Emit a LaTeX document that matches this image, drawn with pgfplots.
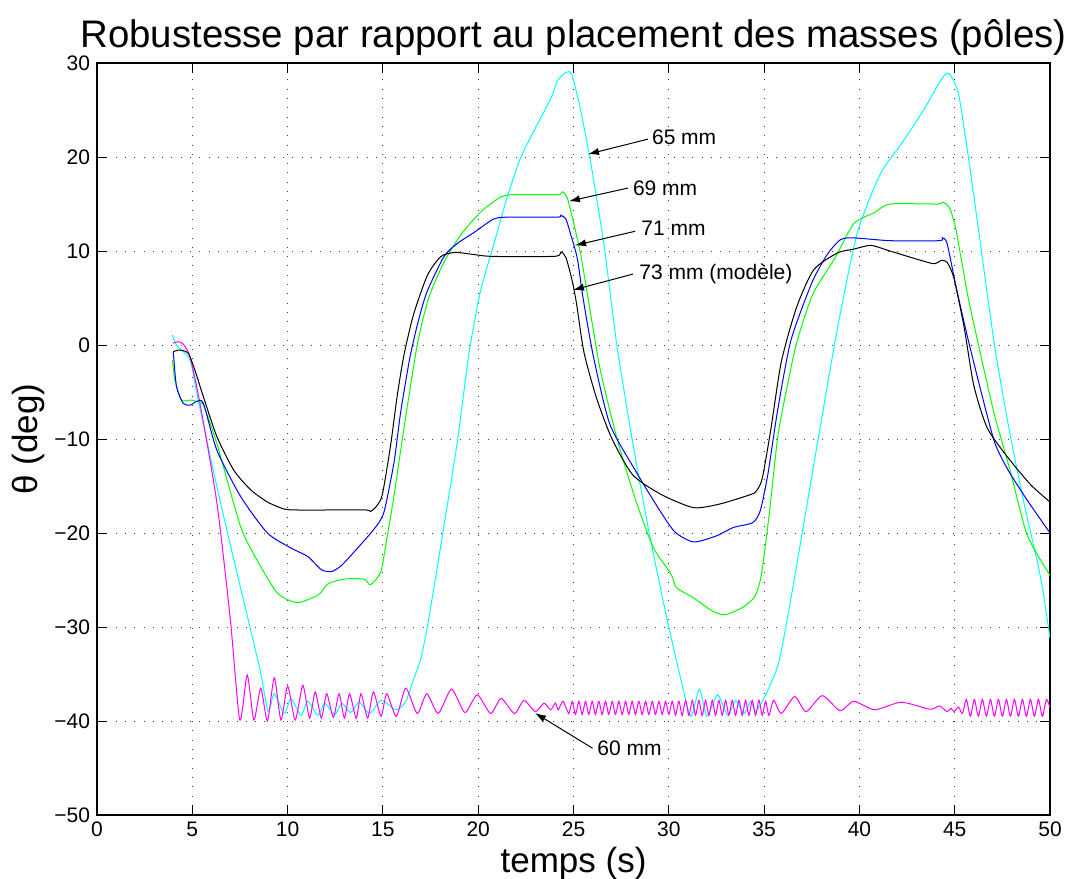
\documentclass[border=0pt]{standalone}
\usepackage{pgfplots}
\pgfplotsset{compat=1.18}
\usepackage{fontspec}
\setmainfont{Liberation Sans}
\usetikzlibrary{arrows.meta}
\definecolor{mcyan}{rgb}{0,1,1}
\definecolor{mmagenta}{rgb}{1,0,1}
\definecolor{mgreen}{rgb}{0,1,0}
\definecolor{mblue}{rgb}{0,0,1}

\begin{document}
\begin{tikzpicture}
\begin{axis}[
    scale only axis,
    width=476.5pt,
    height=376pt,
    xmin=0, xmax=50,
    ymin=-50, ymax=30,
    xtick={0,5,...,50},
    ytick={-50,-40,...,30},
    yticklabels={−50,−40,−30,−20,−10,0,10,20,30},
    tick align=inside,
    major tick length=5pt,
    grid=major,
    grid style={black!75, line width=0.45pt, dash pattern=on 0.45pt off 4.2pt},
    axis line style={line width=0.6pt},
    tick style={line width=0.5pt, black},
    ticklabel style={font=\fontsize{10.5}{12}\selectfont},
    /pgf/number format/assume math mode=true,
    title={Robustesse par rapport au placement des masses (pôles)},
    title style={font=\fontsize{19.2}{22}\selectfont, yshift=-6pt},
    xlabel={temps (s)},
    ylabel={θ (deg)},
    label style={font=\fontsize{17.5}{20}\selectfont},
    xlabel style={yshift=2pt},
    ylabel style={yshift=-2pt},
    every axis plot/.append style={line width=0.5pt, no marks, smooth, tension=0.4},
]
% 65 mm
\addplot[mcyan] coordinates {
(3.96,1.05) (4.17,0) (4.88,-1.6) (5.23,-5.1) (6.29,-15.1) (7.35,-24.3) (8.06,-30.3) (8.59,-34.9)
(8.98,-39.0) (9.3,-37.1) (9.82,-39.2) (10.18,-37.6) (10.7,-39.4) (11.06,-37.9) (11.6,-39.4)
(11.94,-38.1) (12.47,-39.3) (12.85,-38.1) (13.3,-39.1) (13.75,-38.0) (14.3,-39.2) (14.9,-37.8)
(15.7,-38.8) (16.2,-37.9) (16.6,-35.6) (16.97,-33.5) (17.33,-30.0) (18.03,-21.4) (18.9,-10.35)
(19.5,-1.1) (20.1,5.6) (20.8,10.6) (21.5,15.6) (22.2,19.8) (22.9,22.7) (23.8,26.2) (24.16,28.1)
(24.6,29.0) (24.9,28.8) (25.35,25.2) (25.9,19.4) (26.6,10.6) (27.3,-0.4) (28.2,-11.5) (29.0,-20.3)
(29.9,-29.1) (30.6,-35.3) (31.15,-39.5) (31.6,-36.6) (32.0,-39.5) (32.55,-37.2) (33.1,-39.4)
(33.5,-37.8) (33.95,-39.2) (34.3,-37.9) (34.56,-39.0) (35.2,-36.7) (35.8,-33.5) (36.6,-24.7)
(37.8,-10.4) (38.85,1.8) (39.9,12.0) (41.1,18.2) (42.2,21.4) (43.4,25.1) (44.1,27.6) (44.5,28.8)
(44.75,28.8) (45.2,26.7) (45.7,20.2) (46.4,10.0) (47.1,-0.2) (47.8,-8.4) (48.6,-16.5) (49.5,-24.7)
(50.0,-31.2)
};
% 60 mm
\addplot[mmagenta] coordinates {
(3.99,0.2) (4.26,0.35) (4.52,0.1) (4.88,-1.25) (5.4,-6.2) (6.29,-16.8) (7.0,-29.3) (7.49,-39.9)
(7.88,-35.1) (8.23,-39.9) (8.59,-36.5) (8.94,-40.0) (9.3,-35.4) (9.65,-39.9) (10.0,-36.3)
(10.4,-39.9) (10.8,-36.2) (11.15,-39.7) (11.45,-36.9) (11.77,-39.7) (12.05,-37.1) (12.4,-39.6)
(12.7,-37.1) (12.98,-39.7) (13.25,-37.1) (13.6,-39.7) (13.85,-37.1) (14.2,-39.7) (14.5,-36.9)
(14.9,-39.5) (15.2,-37.1) (15.7,-39.5) (16.2,-36.5) (16.8,-39.2) (17.3,-37.1) (17.9,-39.2)
(18.6,-36.6) (19.3,-39.1) (19.95,-37.2) (20.65,-39.2) (21.2,-37.6) (21.9,-39.2) (22.4,-37.8)
(23.0,-39.0) (23.45,-38.1) (23.8,-38.8) (24.05,-38.1) (24.2,-38.8) (24.45,-37.9) (24.75,-39.2)
(24.93,-37.9) (25.10,-39.3) (25.28,-37.9) (25.45,-39.3) (25.63,-37.9) (25.80,-39.3) (25.98,-37.9)
(26.15,-39.3) (26.33,-37.9) (26.50,-39.3) (26.68,-37.9) (26.85,-39.3) (27.03,-37.9) (27.20,-39.3)
(27.38,-37.9) (27.55,-39.3) (27.73,-37.9) (27.90,-39.3) (28.08,-37.9) (28.25,-39.3) (28.43,-37.9)
(28.60,-39.3) (28.78,-37.9) (28.95,-39.3) (29.13,-37.9) (29.30,-39.3) (29.48,-37.9) (29.65,-39.3)
(29.83,-37.9) (30.00,-39.3) (30.18,-37.9) (30.35,-39.4) (30.53,-37.9) (30.70,-39.4) (30.88,-37.8)
(31.05,-39.4) (31.23,-37.8) (31.40,-39.4) (31.58,-37.8) (31.75,-39.4) (31.93,-37.8) (32.10,-39.4)
(32.28,-37.8) (32.45,-39.4) (32.63,-37.8) (32.80,-39.4) (32.98,-37.8) (33.15,-39.4) (33.33,-37.8)
(33.50,-39.4) (33.68,-37.8) (33.85,-39.4) (34.03,-37.8) (34.20,-39.4) (34.38,-37.8) (34.55,-39.4)
(34.73,-37.8) (34.90,-39.4) (35.08,-37.9) (35.25,-39.4) (35.5,-37.8) (35.9,-39.2) (36.6,-37.4)
(37.2,-39.0) (38.05,-37.3) (38.98,-38.9) (39.7,-37.9) (40.8,-38.8) (42.2,-38.0) (43.7,-38.75)
(44.2,-38.4) (44.6,-39.0) (44.8,-38.65) (44.97,-39.0) (45.2,-38.5) (45.4,-39.2)
(45.61,-37.7) (45.82,-39.5) (46.03,-37.7) (46.24,-39.5) (46.45,-37.7) (46.66,-39.5) (46.87,-37.7)
(47.08,-39.5) (47.29,-37.7) (47.50,-39.5) (47.71,-37.7) (47.92,-39.5) (48.13,-37.7) (48.34,-39.5)
(48.55,-37.7) (48.76,-39.5) (48.97,-37.7) (49.18,-39.5) (49.39,-37.7) (49.60,-39.5) (49.81,-37.7)
(50.0,-38.6)
};
% 69 mm
\addplot[mgreen] coordinates {
(3.96,-1.6) (4.08,-3.7) (4.43,-5.85) (4.88,-5.85) (5.23,-6.0) (5.58,-6.4) (6.29,-10.5) (7.53,-19.3)
(8.4,-22.9) (9.47,-26.4) (10.5,-27.4) (11.6,-26.6) (12.12,-25.4) (13.0,-24.9) (14.0,-24.9)
(14.35,-25.5) (14.88,-24.2) (15.14,-21.4) (15.58,-16.05) (16.1,-8.9) (16.8,0.0) (17.4,5.0)
(18.2,8.8) (19.08,11.7) (20.13,14.15) (21.18,15.75) (21.88,16.0) (24.16,16.0) (24.42,16.3)
(24.68,15.6) (25.04,12.7) (25.38,9.6) (25.7,5.75) (26.4,-2.6) (27.3,-10.1) (28.3,-16.75)
(29.2,-21.6) (30.1,-24.3) (30.4,-25.8) (31.3,-26.9) (32.2,-28.2) (32.9,-28.7) (33.8,-28.0)
(34.5,-26.8) (34.85,-24.5) (35.25,-18.3) (35.7,-10.0) (36.1,-5.5) (36.7,0.2) (37.55,5.4)
(38.7,9.2) (39.7,12.9) (40.8,14.1) (41.6,15.0) (44.1,15.0) (44.35,15.2) (44.7,14.7) (45.05,12.4)
(45.7,5.1) (46.4,-1.4) (47.1,-7.55) (47.9,-13.3) (48.8,-20.2) (50.0,-24.5)
};
% 71 mm
\addplot[mblue] coordinates {
(4.0,-0.7) (4.17,-4.4) (4.52,-6.2) (4.88,-6.4) (5.23,-6.0) (5.58,-6.2) (6.29,-11.2) (7.53,-16.1)
(8.94,-20.0) (10.18,-21.6) (11.06,-22.5) (11.77,-23.9) (12.3,-24.1) (12.8,-23.5) (13.36,-22.3)
(14.53,-19.6) (15.05,-17.8) (15.58,-12.5) (15.93,-7.15) (16.4,-1.5) (16.8,2.1) (17.3,5.6)
(18.2,9.4) (18.9,10.8) (19.8,12.0) (20.8,13.4) (21.5,13.6) (24.16,13.6) (24.33,13.8) (24.6,13.4)
(24.86,11.7) (25.2,9.2) (25.5,5.0) (26.05,-1.3) (26.9,-8.4) (28.2,-13.2) (29.4,-17.2) (30.3,-19.85)
(31.3,-20.95) (32.5,-20.3) (33.4,-19.4) (34.4,-18.9) (34.8,-17.6) (35.2,-13.7) (35.7,-7.05)
(36.4,0.45) (37.5,6.6) (38.3,9.6) (39.0,11.2) (39.7,11.4) (41.6,11.1) (44.2,11.1) (44.35,11.4)
(44.6,10.8) (45.1,5.9) (45.7,0.6) (46.4,-5.1) (47.1,-10.4) (47.8,-13.3) (48.8,-16.5) (50.0,-20.0)
};
% 73 mm (modele)
\addplot[black] coordinates {
(4.0,-0.7) (4.25,-0.55) (4.52,-0.6) (4.8,-0.9) (5.14,-2.7) (5.58,-5.5) (6.29,-9.75) (7.17,-13.3)
(8.06,-15.4) (8.94,-16.7) (9.82,-17.45) (10.5,-17.55) (12.25,-17.55) (14.1,-17.55) (14.35,-17.7)
(14.6,-17.3) (14.96,-16.0) (15.4,-10.7) (15.75,-5.4) (16.1,-1.1) (16.6,3.2) (17.33,7.4)
(18.03,9.4) (18.74,9.85) (19.5,9.7) (20.5,9.45) (22.0,9.4) (24.1,9.45) (24.35,9.9) (24.6,9.3)
(24.9,7.1) (25.15,4.5) (25.55,-0.8) (26.2,-5.6) (27.0,-9.9) (28.1,-13.8) (29.6,-15.9) (31.3,-17.3)
(32.7,-16.9) (34.3,-15.9) (34.6,-15.5) (34.9,-14.2) (35.35,-9.0) (35.9,-1.8) (36.7,4.0)
(37.6,8.0) (38.85,9.8) (39.7,10.2) (40.6,10.6) (41.6,10.0) (42.9,9.2) (43.9,8.65) (44.3,9.0)
(44.6,8.8) (44.96,7.1) (45.5,1.8) (46.0,-4.3) (46.7,-8.8) (47.8,-12.0) (49.0,-14.9) (50.0,-16.7)
};

\tikzset{ann/.style={-{Latex[length=5.5pt,width=3.6pt]}, line width=0.5pt, black},
         lab/.style={anchor=west, inner sep=0pt, font=\fontsize{10.5}{12}\selectfont}}
\draw[ann] (axis cs:28.9,21.9) -- (axis cs:25.76,20.3);
\node[lab] at (axis cs:29.1,22.1) {65 mm};
\draw[ann] (axis cs:27.86,16.7) -- (axis cs:24.76,15.3);
\node[lab] at (axis cs:28.1,16.7) {69 mm};
\draw[ann] (axis cs:28.23,12.1) -- (axis cs:25.08,10.6);
\node[lab] at (axis cs:28.54,12.45) {71 mm};
\draw[ann] (axis cs:28.12,7.55) -- (axis cs:24.97,5.85);
\node[lab] at (axis cs:28.44,7.55) {73 mm (modèle)};
\draw[ann] (axis cs:26.0,-42.9) -- (axis cs:22.98,-39.15);
\node[lab] at (axis cs:26.23,-42.9) {60 mm};

\coordinate (bl) at (rel axis cs:-0.1018,-0.0838);
\coordinate (tr) at (rel axis cs:1.0157,1.0838);
\end{axis}
\pgfresetboundingbox
\path (bl) rectangle (tr);
\end{tikzpicture}
\end{document}
